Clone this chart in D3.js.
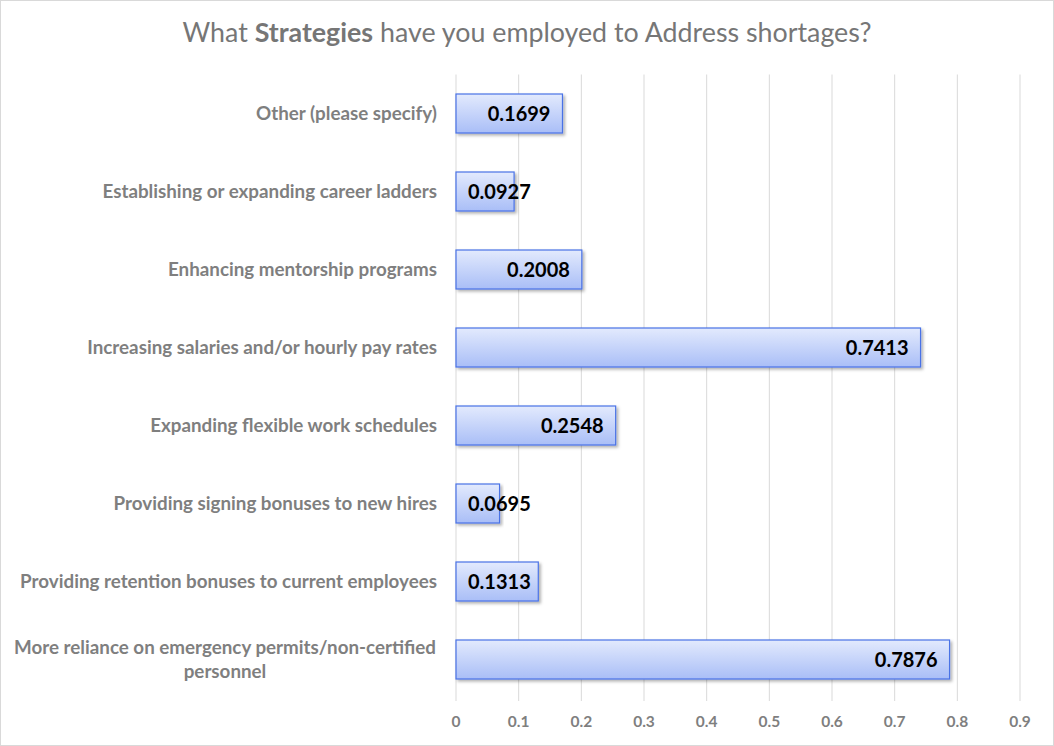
<!DOCTYPE html>
<html><head><meta charset="utf-8">
<script src="https://cdn.jsdelivr.net/npm/d3@7"></script>
<style>body{margin:0;background:#fff}svg{display:block}</style>
</head><body>
<svg id="c" width="1054" height="746"></svg>
<script>
const categories = [
  "Other (please specify)",
  "Establishing or expanding career ladders",
  "Enhancing mentorship programs",
  "Increasing salaries and/or hourly pay rates",
  "Expanding flexible work schedules",
  "Providing signing bonuses to new hires",
  "Providing retention bonuses to current employees",
  "More reliance on emergency permits/non-certified personnel"
];
const values = [0.1699, 0.0927, 0.2008, 0.7413, 0.2548, 0.0695, 0.1313, 0.7876];
const ticks = [0, 0.1, 0.2, 0.3, 0.4, 0.5, 0.6, 0.7, 0.8, 0.9];

const W = 1054, H = 746;
const m = {left: 456, right: 34, top: 74.5};
const svg = d3.select("#c");
const font = "Lato, 'Open Sans', sans-serif";

svg.append("rect").attr("x",0.5).attr("y",0.5).attr("width",W-1).attr("height",H-1)
  .attr("fill","#fff").attr("stroke","#d9d9d9");

const defs = svg.append("defs");
const g = defs.append("linearGradient").attr("id","bg").attr("x1",0).attr("y1",0).attr("x2",0).attr("y2",1);
g.append("stop").attr("offset","0%").attr("stop-color","#e3eafd");
g.append("stop").attr("offset","100%").attr("stop-color","#a9bef7");
const f = defs.append("filter").attr("id","sh").attr("x","-5%").attr("y","-20%").attr("width","115%").attr("height","150%");
f.append("feDropShadow").attr("dx",2).attr("dy",2).attr("stdDeviation",1.5).attr("flood-color","#000").attr("flood-opacity",0.3);

const x = d3.scaleLinear().domain([0, 0.9]).range([m.left, W - m.right]);
const y = d3.scaleBand().domain(categories).range([m.top, 698.5]).paddingInner(0.5).paddingOuter(0.25);

// grid
svg.append("g").selectAll("line").data(ticks).join("line")
  .attr("x1", d => x(d)).attr("x2", d => x(d))
  .attr("y1", m.top).attr("y2", 701)
  .attr("stroke", "#d9d9d9").attr("stroke-width", 1);

// title
const t = svg.append("text").attr("x", 527).attr("y", 42).attr("text-anchor","middle")
  .attr("font-family", font).attr("font-size", 26.8).attr("fill", "#767676");
t.append("tspan").text("What ");
t.append("tspan").attr("font-weight","bold").text("Strategies");
t.append("tspan").text(" have you employed to Address shortages?");

// bars
svg.append("g").selectAll("rect").data(values).join("rect")
  .attr("x", x(0)).attr("y", (d,i) => y(categories[i]))
  .attr("width", d => x(d) - x(0)).attr("height", y.bandwidth())
  .attr("fill", "url(#bg)").attr("stroke", "#4a72e6").attr("stroke-width", 1.2)
  .attr("filter", "url(#sh)");

// value labels
const lab = svg.append("g").selectAll("text").data(values).join("text")
  .attr("y", (d,i) => y(categories[i]) + y.bandwidth()/2)
  .attr("dy", "0.36em")
  .attr("font-family", font).attr("font-weight", "bold").attr("font-size", 20).attr("fill", "#000")
  .text(d => d.toFixed(4));
lab.each(function(d){
  const w = this.getComputedTextLength();
  const xe = Math.max(x(d) - 12, x(0) + 12 + w);
  d3.select(this).attr("x", xe).attr("text-anchor","end");
});

// category labels
const cl = svg.append("g").selectAll("text").data(categories).join("text")
  .attr("font-family", font).attr("font-weight", "bold").attr("font-size", 18.8).attr("fill", "#7f7f7f")
  .attr("text-anchor", "middle");
cl.each(function(d){
  const el = d3.select(this);
  const cy = y(d) + y.bandwidth()/2;
  if (d.startsWith("More reliance")) {
    el.attr("x", 225);
    el.append("tspan").attr("x",225).attr("y", cy - 12).attr("dy","0.36em").text("More reliance on emergency permits/non-certified");
    el.append("tspan").attr("x",225).attr("y", cy + 12).attr("dy","0.36em").text("personnel");
  } else {
    el.attr("text-anchor","end").attr("x", 437).attr("y", cy).attr("dy","0.36em").text(d);
  }
});

// x axis labels
svg.append("g").selectAll("text").data(ticks).join("text")
  .attr("x", d => x(d)).attr("y", 721).attr("dy","0.36em").attr("text-anchor","middle")
  .attr("font-family", font).attr("font-weight", "bold").attr("font-size", 15.5).attr("fill", "#7f7f7f")
  .text(d => d3.format("")(d));
</script>
</body></html>
